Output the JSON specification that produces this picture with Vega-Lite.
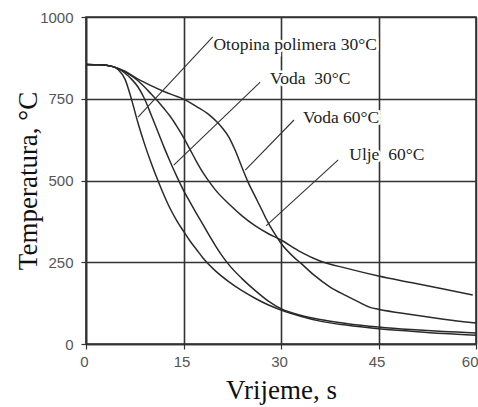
{
  "$schema": "https://vega.github.io/schema/vega-lite/v6.json",
  "width": 390,
  "height": 327,
  "autosize": "none",
  "padding": {"left": 86, "top": 17, "right": 2, "bottom": 63},
  "background": "white",
  "config": {
    "view": {"stroke": "#333", "strokeWidth": 1.6},
    "axis": {
      "grid": true, "gridColor": "#333", "gridWidth": 1.6, "gridOpacity": 1,
      "domainColor": "#333", "domainWidth": 1.6,
      "tickColor": "#333", "tickSize": 5, "tickWidth": 1.2,
      "labelFlush": false, "labelOverlap": false,
      "labelFont": "Liberation Sans", "labelFontSize": 15, "labelColor": "#555",
      "titleFont": "Liberation Serif", "titleFontSize": 27, "titleFontWeight": "normal", "titleColor": "#111"
    }
  },
  "datasets": {
    "curves": [
      {"series": "c1", "t": 0, "T": 855}, {"series": "c1", "t": 2, "T": 854}, {"series": "c1", "t": 4, "T": 849}, {"series": "c1", "t": 5, "T": 838},
      {"series": "c1", "t": 6, "T": 810}, {"series": "c1", "t": 7, "T": 748}, {"series": "c1", "t": 8, "T": 676}, {"series": "c1", "t": 9, "T": 612},
      {"series": "c1", "t": 10, "T": 555}, {"series": "c1", "t": 11, "T": 503}, {"series": "c1", "t": 12, "T": 455}, {"series": "c1", "t": 13, "T": 412},
      {"series": "c1", "t": 14, "T": 376}, {"series": "c1", "t": 15, "T": 345}, {"series": "c1", "t": 16, "T": 315}, {"series": "c1", "t": 17, "T": 289},
      {"series": "c1", "t": 18, "T": 263}, {"series": "c1", "t": 20, "T": 222}, {"series": "c1", "t": 22, "T": 190}, {"series": "c1", "t": 24, "T": 163},
      {"series": "c1", "t": 26, "T": 140}, {"series": "c1", "t": 28, "T": 120}, {"series": "c1", "t": 30, "T": 104}, {"series": "c1", "t": 33, "T": 85},
      {"series": "c1", "t": 36, "T": 70}, {"series": "c1", "t": 40, "T": 58}, {"series": "c1", "t": 45, "T": 47}, {"series": "c1", "t": 50, "T": 39},
      {"series": "c1", "t": 55, "T": 32}, {"series": "c1", "t": 60, "T": 27},

      {"series": "c2", "t": 0, "T": 855}, {"series": "c2", "t": 2, "T": 854}, {"series": "c2", "t": 4, "T": 849}, {"series": "c2", "t": 6, "T": 828},
      {"series": "c2", "t": 7, "T": 810}, {"series": "c2", "t": 8, "T": 786}, {"series": "c2", "t": 9, "T": 750}, {"series": "c2", "t": 10, "T": 702},
      {"series": "c2", "t": 11, "T": 652}, {"series": "c2", "t": 12, "T": 602}, {"series": "c2", "t": 13, "T": 555}, {"series": "c2", "t": 14, "T": 511},
      {"series": "c2", "t": 15, "T": 470}, {"series": "c2", "t": 16, "T": 434}, {"series": "c2", "t": 17, "T": 399}, {"series": "c2", "t": 18, "T": 365},
      {"series": "c2", "t": 19, "T": 331}, {"series": "c2", "t": 20, "T": 298}, {"series": "c2", "t": 21, "T": 268}, {"series": "c2", "t": 22, "T": 242},
      {"series": "c2", "t": 24, "T": 200}, {"series": "c2", "t": 26, "T": 164}, {"series": "c2", "t": 28, "T": 132}, {"series": "c2", "t": 30, "T": 108},
      {"series": "c2", "t": 33, "T": 88}, {"series": "c2", "t": 36, "T": 75}, {"series": "c2", "t": 40, "T": 63}, {"series": "c2", "t": 45, "T": 52},
      {"series": "c2", "t": 50, "T": 44}, {"series": "c2", "t": 55, "T": 38}, {"series": "c2", "t": 60, "T": 34},

      {"series": "c3", "t": 0, "T": 855}, {"series": "c3", "t": 2, "T": 854}, {"series": "c3", "t": 4, "T": 849}, {"series": "c3", "t": 6, "T": 834},
      {"series": "c3", "t": 8, "T": 810}, {"series": "c3", "t": 10, "T": 790}, {"series": "c3", "t": 12, "T": 772}, {"series": "c3", "t": 14, "T": 757},
      {"series": "c3", "t": 15, "T": 749}, {"series": "c3", "t": 17, "T": 726}, {"series": "c3", "t": 19, "T": 700}, {"series": "c3", "t": 20.2, "T": 678},
      {"series": "c3", "t": 21, "T": 660}, {"series": "c3", "t": 22, "T": 632}, {"series": "c3", "t": 23, "T": 590}, {"series": "c3", "t": 24, "T": 540},
      {"series": "c3", "t": 25, "T": 492}, {"series": "c3", "t": 26, "T": 452}, {"series": "c3", "t": 27, "T": 412}, {"series": "c3", "t": 28, "T": 372},
      {"series": "c3", "t": 29, "T": 338}, {"series": "c3", "t": 30, "T": 308}, {"series": "c3", "t": 32, "T": 265}, {"series": "c3", "t": 33, "T": 248},
      {"series": "c3", "t": 35, "T": 212}, {"series": "c3", "t": 37.5, "T": 175}, {"series": "c3", "t": 40, "T": 148}, {"series": "c3", "t": 42, "T": 128},
      {"series": "c3", "t": 43.7, "T": 112}, {"series": "c3", "t": 45, "T": 106}, {"series": "c3", "t": 50, "T": 90}, {"series": "c3", "t": 55, "T": 76},
      {"series": "c3", "t": 60, "T": 64},

      {"series": "c4", "t": 0, "T": 855}, {"series": "c4", "t": 2, "T": 854}, {"series": "c4", "t": 4, "T": 849}, {"series": "c4", "t": 6, "T": 832},
      {"series": "c4", "t": 8, "T": 805}, {"series": "c4", "t": 10, "T": 765}, {"series": "c4", "t": 12, "T": 720}, {"series": "c4", "t": 13, "T": 695},
      {"series": "c4", "t": 14, "T": 665}, {"series": "c4", "t": 15, "T": 632}, {"series": "c4", "t": 16, "T": 595}, {"series": "c4", "t": 17, "T": 558},
      {"series": "c4", "t": 18, "T": 524}, {"series": "c4", "t": 19, "T": 495}, {"series": "c4", "t": 20, "T": 469}, {"series": "c4", "t": 22, "T": 428},
      {"series": "c4", "t": 24, "T": 392}, {"series": "c4", "t": 26, "T": 362}, {"series": "c4", "t": 28, "T": 338}, {"series": "c4", "t": 30, "T": 318},
      {"series": "c4", "t": 33, "T": 282}, {"series": "c4", "t": 36, "T": 254}, {"series": "c4", "t": 40, "T": 232}, {"series": "c4", "t": 45, "T": 208},
      {"series": "c4", "t": 50, "T": 188}, {"series": "c4", "t": 55, "T": 168}, {"series": "c4", "t": 59.5, "T": 150}
    ],
    "labels": [
      {"label": "Otopina polimera 30°C", "t": 19.6, "T": 914},
      {"label": "Voda\u00a0 30°C", "t": 28.3, "T": 810},
      {"label": "Voda 60°C", "t": 33.4, "T": 691},
      {"label": "Ulje\u00a0 60°C", "t": 40.5, "T": 578}
    ],
    "leaders": [
      {"t1": 19.5, "T1": 939, "t2": 8.0, "T2": 694},
      {"t1": 26.8, "T1": 801, "t2": 13.5, "T2": 547},
      {"t1": 32.0, "T1": 685, "t2": 24.5, "T2": 532},
      {"t1": 38.8, "T1": 563, "t2": 27.7, "T2": 361}
    ]
  },
  "layer": [
    {
      "data": {"name": "curves"},
      "mark": {"type": "line", "color": "#2a2a2a", "strokeWidth": 1.5, "interpolate": "monotone"},
      "encoding": {
        "x": {"field": "t", "type": "quantitative", "scale": {"domain": [0, 60], "nice": false},
          "axis": {"values": [0, 15, 30, 45, 60], "title": "Vrijeme, s", "labelPadding": 5,
            "labelAlign": {"expr": "datum.value == 60 ? 'right' : 'center'"},
            "labelOffset": {"expr": "datum.value == 60 ? 2 : -2"},
            "titleX": 195, "titleY": 54, "titleBaseline": "alphabetic", "titleAnchor": "middle", "titleAlign": "center"}},
        "y": {"field": "T", "type": "quantitative", "scale": {"domain": [0, 1000], "nice": false},
          "axis": {"values": [0, 250, 500, 750, 1000], "format": "d", "title": "Temperatura, °C", "labelPadding": 8, "titleX": -58, "titleY": 163.5, "titleBaseline": "middle", "titleAlign": "center", "titleAngle": -90}},
        "detail": {"field": "series"}
      }
    },
    {
      "data": {"name": "labels"},
      "mark": {"type": "text", "align": "left", "baseline": "middle", "font": "Liberation Serif", "fontSize": 17.5, "fill": "white", "stroke": "white", "strokeWidth": 5},
      "encoding": {
        "x": {"field": "t", "type": "quantitative"},
        "y": {"field": "T", "type": "quantitative"},
        "text": {"field": "label"}
      }
    },
    {
      "data": {"name": "leaders"},
      "mark": {"type": "rule", "color": "#333", "strokeWidth": 1.1},
      "encoding": {
        "x": {"field": "t1", "type": "quantitative"},
        "y": {"field": "T1", "type": "quantitative"},
        "x2": {"field": "t2"},
        "y2": {"field": "T2"}
      }
    },
    {
      "data": {"name": "labels"},
      "mark": {"type": "text", "align": "left", "baseline": "middle", "font": "Liberation Serif", "fontSize": 17.5, "color": "#222"},
      "encoding": {
        "x": {"field": "t", "type": "quantitative"},
        "y": {"field": "T", "type": "quantitative"},
        "text": {"field": "label"}
      }
    }
  ]
}
